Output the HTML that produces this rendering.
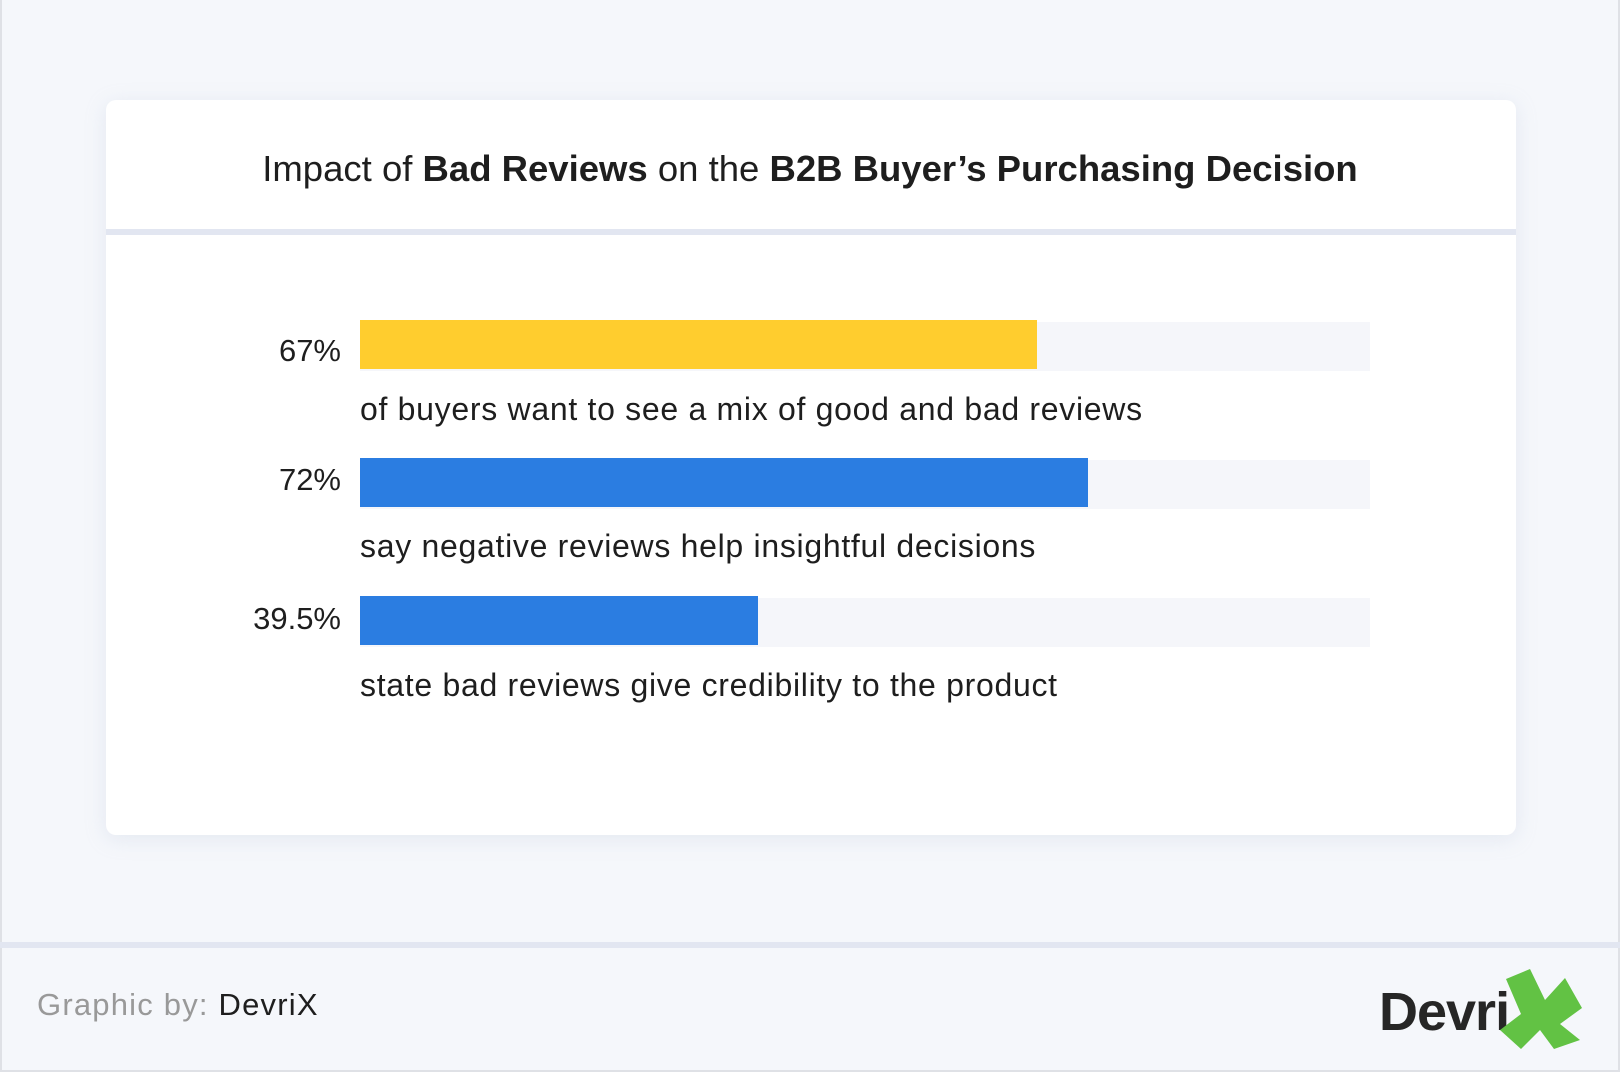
<!DOCTYPE html>
<html><head><meta charset="utf-8"><style>
*{margin:0;padding:0;box-sizing:border-box}
body{width:1620px;height:1072px;background:#f5f7fb;position:relative;overflow:hidden;font-family:"Liberation Sans","DejaVu Sans",sans-serif;color:#1e1e1e}
.frame{position:absolute;left:0;top:0;width:1620px;height:1072px;border:2px solid #dfe1e6;border-top:none}
.card{position:absolute;left:106px;top:100px;width:1410px;height:735px;background:#fff;border-radius:10px;box-shadow:0 4px 20px rgba(180,190,215,.25)}
.title{position:absolute;left:0;top:147px;width:1620px;text-align:center;font-size:36.5px;line-height:44px;color:#1e1e1e}
.div{position:absolute;left:106px;top:229px;width:1410px;height:6px;background:#e2e6f1}
.track{position:absolute;left:360px;width:1010px;height:49px;background:#f5f6fa}
.bar{position:absolute;left:360px;height:49px}
.pct{position:absolute;right:1279px;font-size:31px;line-height:34px;text-align:right}
.desc{position:absolute;left:360px;font-size:32px;line-height:36px;letter-spacing:0.7px;color:#1e1e1e}
.fline{position:absolute;left:0;top:942px;width:1620px;height:6px;background:#e2e6f1}
.gb{position:absolute;left:37px;top:987px;font-size:31px;line-height:36px;letter-spacing:1.2px;color:#999}
.gb b{font-weight:normal;color:#1e1e1e}
.logo{position:absolute;left:1379px;top:982px;font-size:54px;font-weight:bold;line-height:60px;color:#262626;letter-spacing:-1px}
</style></head><body>
<div class="frame"></div>
<div class="card"></div>
<div class="title">Impact of <b>Bad Reviews</b> on the <b>B2B Buyer’s Purchasing Decision</b></div>
<div class="div"></div>

<div class="track" style="top:322px"></div>
<div class="bar" style="top:320px;width:677px;background:#ffcd2e"></div>
<div class="pct" style="top:334px">67%</div>
<div class="desc" style="top:391px">of buyers want to see a mix of good and bad reviews</div>

<div class="track" style="top:460px"></div>
<div class="bar" style="top:458px;width:728px;background:#2b7de1"></div>
<div class="pct" style="top:463px">72%</div>
<div class="desc" style="top:528px">say negative reviews help insightful decisions</div>

<div class="track" style="top:598px"></div>
<div class="bar" style="top:596px;width:398px;background:#2b7de1"></div>
<div class="pct" style="top:602px">39.5%</div>
<div class="desc" style="top:667px">state bad reviews give credibility to the product</div>

<div class="fline"></div>
<div class="gb">Graphic by: <b>DevriX</b></div>
<div class="logo">Devri</div>
<svg style="position:absolute;left:0;top:0" width="1620" height="1072">
<polygon fill="#62c244" points="1506,979 1530,969 1545,1000 1565,978 1582,1008 1560,1024 1580,1040 1554,1049 1540,1030 1521,1049 1500,1030 1521,1014"/>
</svg>
</body></html>
